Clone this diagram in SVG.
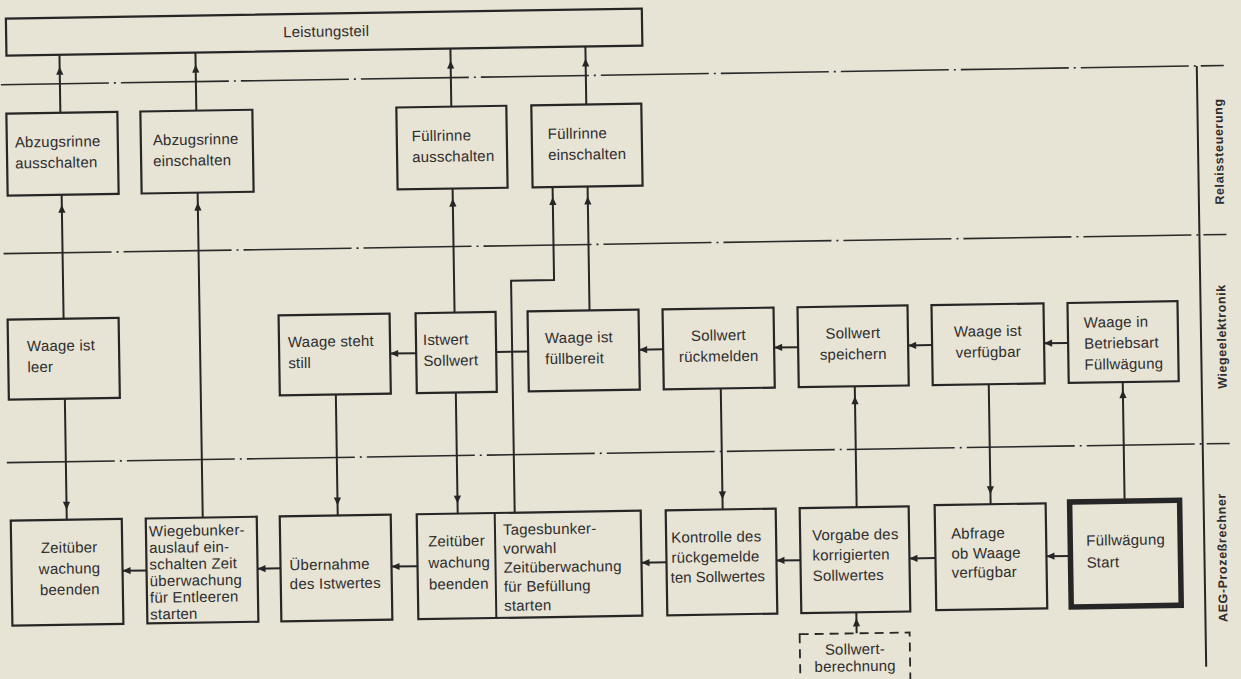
<svg xmlns="http://www.w3.org/2000/svg" xmlns:xlink="http://www.w3.org/1999/xlink" width="1241" height="679" viewBox="0 0 1241 679">
  <style>
    .box { fill: none; stroke: #262626; stroke-width: 2.2; }
    .thick { stroke-width: 5.5; }
    .dashed { stroke-dasharray: 9 6; stroke-width: 1.8; }
    .ln { fill: none; stroke: #262626; stroke-width: 2; }
    .sep { fill: none; stroke: #2a2a2a; stroke-width: 1.6; stroke-dasharray: 108 5 2 5; }
    text { font-family: "Liberation Sans", Arial, sans-serif; font-size: 15px; fill: #2e2e2e; letter-spacing: 0.2px; }
    .c { text-anchor: middle; }
    .tight { letter-spacing: 0; }
    .side { font-size: 12.5px; font-weight: bold; text-anchor: middle; letter-spacing: 0.6px; }
  </style>
  <defs>
    <!-- arrowhead pointing along +x, tip at the origin -->
    <path id="ah" d="M0,0 L-8,-3.6 L-8,3.6 Z" fill="#262626"/>
  </defs>

  <rect width="1241" height="679" fill="#e7e3d5"/>

  <!-- the whole sheet sits slightly rotated -->
  <g transform="rotate(-0.9 620 340)">

    <!-- level separators -->
    <g id="levels">
      <path class="sep" d="M5,75 H1228"/>
      <path class="sep" d="M5,244 H1228"/>
      <path class="sep" d="M5,453 H1228"/>
      <path class="ln" d="M1201,75 V676"/>
      <text class="side" transform="translate(1226,161) rotate(-90)">Relaissteuerung</text>
      <text class="side" transform="translate(1226,346) rotate(-90)">Wiegeelektronik</text>
      <text class="side" transform="translate(1223,567) rotate(-90)">AEG-Prozeßrechner</text>
    </g>

    <!-- connectors -->
    <g id="connectors">
      <path class="ln" d="M64,46 V104 M64,186 V310 M64,390 V511"/>
      <path class="ln" d="M200,46 V104 M200,186 V511"/>
      <path class="ln" d="M455,46 V104 M455,186 V310 M455,390 V511"/>
      <path class="ln" d="M590,46 V104 M590,186 V310"/>
      <path class="ln" d="M555,186 V279 H512 V511"/>
      <path class="ln" d="M335,390 V511"/>
      <path class="ln" d="M720,390 V511"/>
      <path class="ln" d="M854,390 V511"/>
      <path class="ln" d="M988,390 V510"/>
      <path class="ln" d="M1122,390 V509"/>
      <path class="ln" d="M852,616 V637"/>
      <!-- middle row -->
      <path class="ln" d="M1068,350 H1044 M932,350 H908 M798,350 H774 M663,350 H639 M528,350 H496 M416,350 H390"/>
      <!-- bottom row -->
      <path class="ln" d="M1067,563 H1043 M932,563 H906 M797,563 H773 M663,563 H638 M414,563 H388 M277,563 H254 M143,563 H119"/>

      <use xlink:href="#ah" transform="translate(64,58) rotate(-90)"/>
      <use xlink:href="#ah" transform="translate(200,58) rotate(-90)"/>
      <use xlink:href="#ah" transform="translate(455,58) rotate(-90)"/>
      <use xlink:href="#ah" transform="translate(590,58) rotate(-90)"/>
      <use xlink:href="#ah" transform="translate(64,196) rotate(-90)"/>
      <use xlink:href="#ah" transform="translate(200,196) rotate(-90)"/>
      <use xlink:href="#ah" transform="translate(455,196) rotate(-90)"/>
      <use xlink:href="#ah" transform="translate(555,196) rotate(-90)"/>
      <use xlink:href="#ah" transform="translate(590,196) rotate(-90)"/>
      <use xlink:href="#ah" transform="translate(64,501) rotate(90)"/>
      <use xlink:href="#ah" transform="translate(335,501) rotate(90)"/>
      <use xlink:href="#ah" transform="translate(455,501) rotate(90)"/>
      <use xlink:href="#ah" transform="translate(720,501) rotate(90)"/>
      <use xlink:href="#ah" transform="translate(854,400) rotate(-90)"/>
      <use xlink:href="#ah" transform="translate(988,500) rotate(90)"/>
      <use xlink:href="#ah" transform="translate(1122,398) rotate(-90)"/>
      <use xlink:href="#ah" transform="translate(852,622) rotate(-90)"/>

      <use xlink:href="#ah" transform="translate(1044,350) rotate(180)"/>
      <use xlink:href="#ah" transform="translate(908,350) rotate(180)"/>
      <use xlink:href="#ah" transform="translate(774,350) rotate(180)"/>
      <use xlink:href="#ah" transform="translate(639,350) rotate(180)"/>
      <use xlink:href="#ah" transform="translate(390,350) rotate(180)"/>

      <use xlink:href="#ah" transform="translate(1043,563) rotate(180)"/>
      <use xlink:href="#ah" transform="translate(906,563) rotate(180)"/>
      <use xlink:href="#ah" transform="translate(773,563) rotate(180)"/>
      <use xlink:href="#ah" transform="translate(638,563) rotate(180)"/>
      <use xlink:href="#ah" transform="translate(388,563) rotate(180)"/>
      <use xlink:href="#ah" transform="translate(254,563) rotate(180)"/>
      <use xlink:href="#ah" transform="translate(119,563) rotate(180)"/>
    </g>

    <!-- power section -->
    <g id="n_leistungsteil">
      <rect class="box" x="11" y="9" width="636" height="37"/>
      <text class="c" x="331" y="32">Leistungsteil</text>
    </g>

    <!-- relay control -->
    <g id="n_abzug_aus">
      <rect class="box" x="10" y="104" width="111" height="82"/>
      <text x="18" y="138">Abzugsrinne</text>
      <text x="18" y="159">ausschalten</text>
    </g>
    <g id="n_abzug_ein">
      <rect class="box" x="144" y="104" width="112" height="82"/>
      <text x="156" y="138">Abzugsrinne</text>
      <text x="156" y="159">einschalten</text>
    </g>
    <g id="n_full_aus">
      <rect class="box" x="400" y="104" width="110" height="82"/>
      <text x="415" y="138">Füllrinne</text>
      <text x="415" y="159">ausschalten</text>
    </g>
    <g id="n_full_ein">
      <rect class="box" x="535" y="104" width="110" height="82"/>
      <text x="551" y="138">Füllrinne</text>
      <text x="551" y="159">einschalten</text>
    </g>

    <!-- weighing electronics -->
    <g id="n_leer">
      <rect class="box" x="8" y="310" width="111" height="80"/>
      <text x="27" y="342">Waage ist</text>
      <text x="27" y="363">leer</text>
    </g>
    <g id="n_still">
      <rect class="box" x="279" y="310" width="111" height="80"/>
      <text x="288" y="342">Waage steht</text>
      <text x="288" y="363">still</text>
    </g>
    <g id="n_istwert">
      <rect class="box" x="416" y="310" width="80" height="80"/>
      <text x="423" y="342">Istwert</text>
      <text x="423" y="363">Sollwert</text>
    </g>
    <g id="n_fuellbereit">
      <rect class="box" x="528" y="310" width="111" height="80"/>
      <text x="545" y="342">Waage ist</text>
      <text x="545" y="363">füllbereit</text>
    </g>
    <g id="n_rueckmelden">
      <rect class="box" x="663" y="310" width="111" height="80"/>
      <text class="c" x="718.5" y="342">Sollwert</text>
      <text class="c" x="718.5" y="363">rückmelden</text>
    </g>
    <g id="n_speichern">
      <rect class="box" x="798" y="310" width="110" height="80"/>
      <text class="c" x="853" y="342">Sollwert</text>
      <text class="c" x="853" y="363">speichern</text>
    </g>
    <g id="n_verfuegbar">
      <rect class="box" x="932" y="310" width="112" height="80"/>
      <text class="c" x="988" y="342">Waage ist</text>
      <text class="c" x="988" y="363">verfügbar</text>
    </g>
    <g id="n_betriebsart">
      <rect class="box" x="1068" y="310" width="110" height="80"/>
      <text x="1084" y="335">Waage in</text>
      <text x="1084" y="356">Betriebsart</text>
      <text x="1084" y="377">Füllwägung</text>
    </g>

    <!-- process computer -->
    <g id="n_zeit_ende">
      <rect class="box" x="8" y="511" width="111" height="105"/>
      <text class="c" x="66" y="544">Zeitüber</text>
      <text class="c" x="66" y="565">wachung</text>
      <text class="c" x="66" y="586">beenden</text>
    </g>
    <g id="n_wiegebunker">
      <rect class="box" x="143" y="511" width="111" height="105"/>
      <text x="146" y="529">Wiegebunker-</text>
      <text x="146" y="545.6">auslauf ein-</text>
      <text x="146" y="562.2">schalten Zeit</text>
      <text x="146" y="578.8">überwachung</text>
      <text x="146" y="595.4">für Entleeren</text>
      <text x="146" y="612">starten</text>
    </g>
    <g id="n_uebernahme">
      <rect class="box" x="277" y="511" width="111" height="105"/>
      <text x="286" y="565">Übernahme</text>
      <text x="286" y="584">des Istwertes</text>
    </g>
    <g id="n_zeit_tages">
      <rect class="box" x="414" y="511" width="224" height="105"/>
      <path class="ln" d="M492,511 V616"/>
      <text x="425" y="543.5">Zeitüber</text>
      <text x="425" y="565">wachung</text>
      <text x="425" y="586.5">beenden</text>
      <text x="500" y="533">Tagesbunker-</text>
      <text x="500" y="552">vorwahl</text>
      <text x="500" y="571">Zeitüberwachung</text>
      <text x="500" y="590">für Befüllung</text>
      <text x="500" y="609">starten</text>
    </g>
    <g id="n_kontrolle">
      <rect class="box" x="663" y="511" width="110" height="105"/>
      <text x="668" y="543.5">Kontrolle des</text>
      <text x="668" y="563.5">rückgemelde</text>
      <text class="tight" x="667" y="583.5">ten Sollwertes</text>
    </g>
    <g id="n_vorgabe">
      <rect class="box" x="797" y="511" width="109" height="105"/>
      <text x="809" y="543.5">Vorgabe des</text>
      <text x="809" y="563.5">korrigierten</text>
      <text x="809" y="584">Sollwertes</text>
    </g>
    <g id="n_abfrage">
      <rect class="box" x="932" y="510" width="111" height="105"/>
      <text x="948" y="544">Abfrage</text>
      <text x="948" y="564">ob Waage</text>
      <text x="948" y="583">verfügbar</text>
    </g>
    <g id="n_start">
      <rect class="box thick" x="1067" y="509" width="110" height="105"/>
      <text x="1083" y="553">Füllwägung</text>
      <text x="1083" y="575">Start</text>
    </g>
    <g id="n_berechnung">
      <rect class="box dashed" x="795" y="637" width="110" height="52"/>
      <text class="c" x="850" y="658">Sollwert-</text>
      <text class="c" x="850" y="675">berechnung</text>
    </g>
  </g>
</svg>
